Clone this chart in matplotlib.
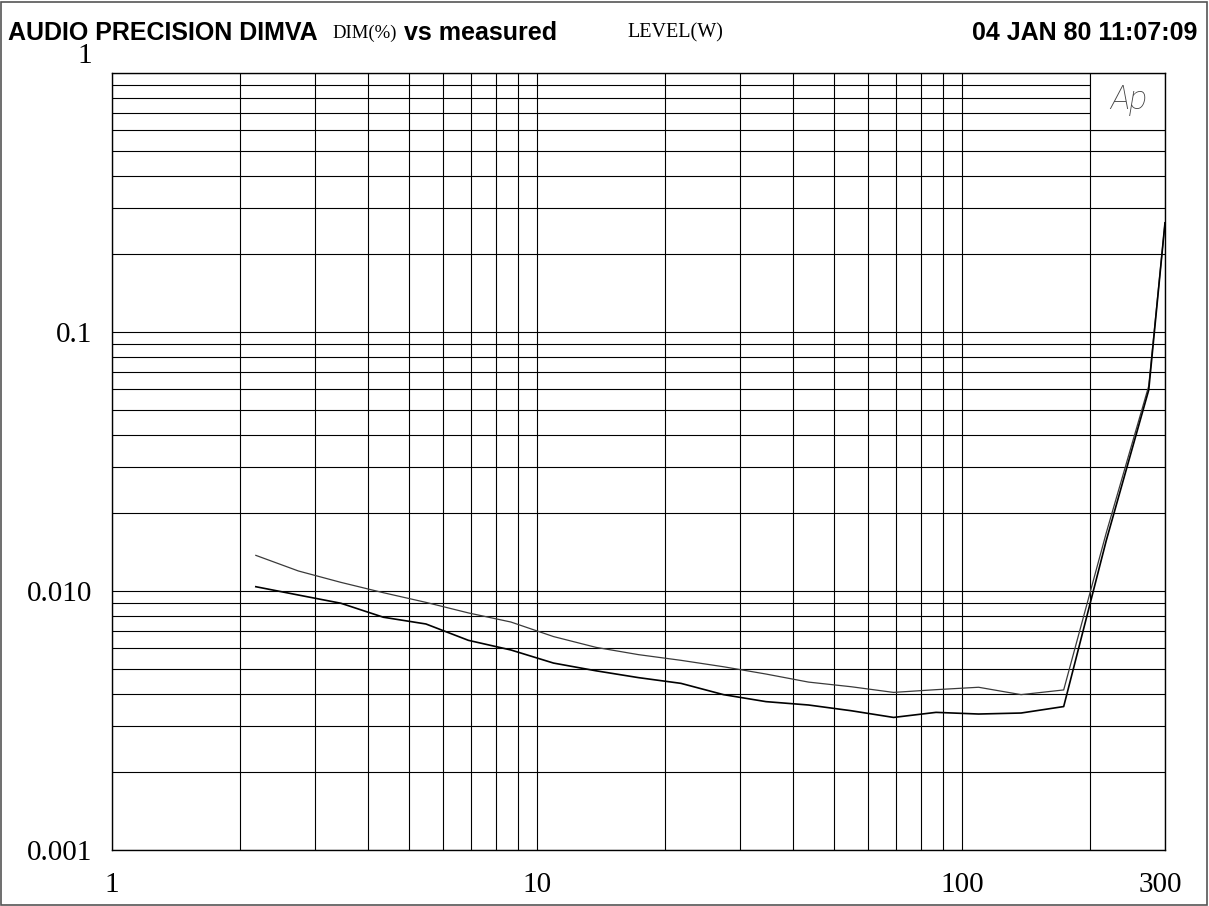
"""DIM distortion versus measured output level, Audio Precision style sweep plot."""

import matplotlib

matplotlib.use("Agg")
import matplotlib.pyplot as plt
from matplotlib.patches import Rectangle
from matplotlib.ticker import FixedLocator, LogLocator, NullFormatter
from matplotlib.transforms import ScaledTranslation

# measured level (W) and DIM (%) for the two channels
level_w = [2.18, 2.745, 3.455, 4.35, 5.477, 6.895, 8.68, 10.93, 13.76, 17.32,
           21.8, 27.45, 34.56, 43.5, 54.8, 68.96, 86.8, 109.3, 137.6, 173.3,
           218.2, 274.7, 300]
dim_upper = [0.01373, 0.01195, 0.01080, 0.00985, 0.00904, 0.00823, 0.00759,
             0.00667, 0.00606, 0.00568, 0.00540, 0.00510, 0.00478, 0.00445,
             0.00427, 0.00406, 0.00416, 0.00425, 0.00398, 0.00415, 0.01675,
             0.0619, 0.264]
dim_lower = [0.01039, 0.00965, 0.00897, 0.00792, 0.00746, 0.00645, 0.00592,
             0.00527, 0.00492, 0.00463, 0.00440, 0.00398, 0.00374, 0.00363,
             0.00345, 0.00325, 0.00340, 0.00335, 0.00338, 0.00358, 0.01564,
             0.0597, 0.264]

x_ticks = [1, 10, 100, 300]
x_labels = ["1", "10", "100", "300"]
y_ticks = [0.001, 0.01, 0.1, 1]
y_labels = ["0.001", "0.010", "0.1", "1"]

SERIF = ["Liberation Serif", "DejaVu Serif"]
SANS = ["Liberation Sans", "DejaVu Sans"]

fig = plt.figure(figsize=(12.09, 9.06), dpi=100)
ax = fig.add_axes([0.0926, 0.0618, 0.871, 0.8576])

ax.set_xscale("log")
ax.set_yscale("log")
ax.set_xlim(1, 300)
ax.set_ylim(0.001, 1)

ax.xaxis.set_major_locator(FixedLocator(x_ticks))
ax.xaxis.set_minor_locator(LogLocator(base=10, subs=range(2, 10)))
ax.yaxis.set_major_locator(FixedLocator(y_ticks))
ax.yaxis.set_minor_locator(LogLocator(base=10, subs=range(2, 10)))
ax.xaxis.set_minor_formatter(NullFormatter())
ax.yaxis.set_minor_formatter(NullFormatter())
ax.set_xticklabels(x_labels, family=SERIF, fontsize=21)
ax.set_yticklabels(y_labels, family=SERIF, fontsize=21)
ax.tick_params(which="both", length=0)
ax.tick_params(axis="x", pad=16)
ax.tick_params(axis="y", pad=14)
ax.grid(which="both", color="black", linewidth=0.8)
ax.set_axisbelow(True)
for spine in ax.spines.values():
    spine.set_color("black")
    spine.set_linewidth(1.0)

# the top label sits above the frame, the last x label pulls in from the edge
top_label = ax.get_yticklabels()[-1]
top_label.set_transform(top_label.get_transform()
                        + ScaledTranslation(0, 0.20, fig.dpi_scale_trans))
end_label = ax.get_xticklabels()[-1]
end_label.set_transform(end_label.get_transform()
                        + ScaledTranslation(-0.05, 0, fig.dpi_scale_trans))

ax.plot(level_w, dim_upper, color="#3a3a3a", linewidth=0.9, zorder=3)
ax.plot(level_w, dim_lower, color="black", linewidth=1.2, zorder=3)

# Ap logo box in the top right corner
ax.add_patch(Rectangle((200, 0.6), 100, 0.4, facecolor="white",
                       edgecolor="black", linewidth=0.8, zorder=2))
ax.text(0.966, 0.965, "Ap", transform=ax.transAxes, ha="center", va="center",
        fontsize=24, style="italic", fontweight="light", color="#444444",
        family=["Roboto", "DejaVu Sans"], zorder=4)

# header line
head_y = 0.9635
fig.text(0.007, head_y, "AUDIO PRECISION DIMVA", family=SANS,
         fontweight="bold", fontsize=18, va="center")
fig.text(0.275, head_y, "DIM(%)", family=SERIF, fontsize=13.5, va="center")
fig.text(0.334, head_y, "vs measured", family=SANS, fontweight="bold",
         fontsize=18, va="center")
fig.text(0.519, head_y, "LEVEL(W)", family=SERIF, fontsize=14.5, va="center")
fig.text(0.990, head_y, "04 JAN 80 11:07:09", family=SANS, fontweight="bold",
         fontsize=18, va="center", ha="right")

fig.patches.append(Rectangle((0.001, 0.001), 0.997, 0.997, fill=False,
                             edgecolor="#555555", linewidth=1.2,
                             transform=fig.transFigure, figure=fig))

fig.savefig("out.png", dpi=100)
plt.close(fig)
